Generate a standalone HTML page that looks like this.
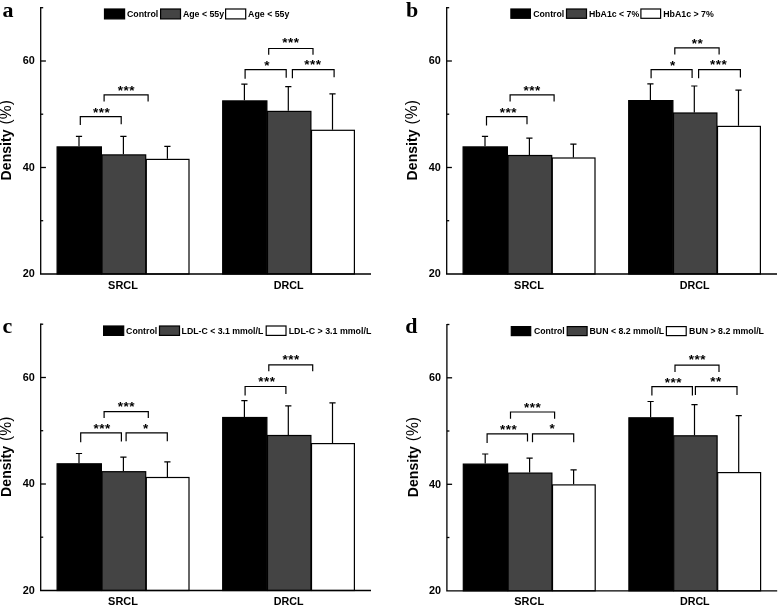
<!DOCTYPE html>
<html lang="en"><head><meta charset="utf-8"><title>Density SRCL DRCL</title>
<style>html,body{margin:0;padding:0;background:#fff}svg{display:block}</style></head>
<body>
<svg width="778" height="606" viewBox="0 0 778 606">
<rect width="778" height="606" fill="#fff"/>
<g transform="translate(0,0)">
<text x="2.4" y="16.6" font-family="Liberation Serif, Times New Roman, serif" font-weight="bold" font-size="22">a</text>
<text transform="translate(11.4,180.4) rotate(-90)" font-family="Liberation Sans, Arial, sans-serif" font-size="13.8" font-weight="bold" textLength="51" lengthAdjust="spacingAndGlyphs">Density</text>
<text transform="translate(11.4,124.4) rotate(-90)" font-family="Liberation Sans, Arial, sans-serif" font-size="15.6">(%)</text>
<path d="M79.0 146.3V136.3M75.9 136.3H82.1" stroke="#000" stroke-width="1.2" fill="none"/>
<rect x="57.1" y="146.9" width="44.3" height="127.1" fill="#000" stroke="#000" stroke-width="1.2"/>
<path d="M123.4 154.3V136.3M120.3 136.3H126.5" stroke="#000" stroke-width="1.2" fill="none"/>
<rect x="102.0" y="154.9" width="43.7" height="119.1" fill="#444" stroke="#000" stroke-width="1.2"/>
<path d="M167.4 158.8V146.3M164.3 146.3H170.5" stroke="#000" stroke-width="1.2" fill="none"/>
<rect x="146.3" y="159.4" width="42.7" height="114.6" fill="#fff" stroke="#000" stroke-width="1.2"/>
<path d="M244.4 100.3V84.1M241.3 84.1H247.5" stroke="#000" stroke-width="1.2" fill="none"/>
<rect x="222.7" y="100.9" width="44.2" height="173.1" fill="#000" stroke="#000" stroke-width="1.2"/>
<path d="M288.3 110.8V86.6M285.2 86.6H291.4" stroke="#000" stroke-width="1.2" fill="none"/>
<rect x="267.5" y="111.4" width="43.4" height="162.6" fill="#444" stroke="#000" stroke-width="1.2"/>
<path d="M332.5 129.7V93.8M329.4 93.8H335.6" stroke="#000" stroke-width="1.2" fill="none"/>
<rect x="311.5" y="130.3" width="42.9" height="143.7" fill="#fff" stroke="#000" stroke-width="1.2"/>
<path d="M40.7 7.1V274.0M40.0 274.0H371" stroke="#000" stroke-width="1.3" fill="none"/>
<path d="M40.7 167.5H45.9" stroke="#000" stroke-width="1.3"/>
<path d="M40.7 61.0H45.9" stroke="#000" stroke-width="1.3"/>
<path d="M40.7 220.7H43.2" stroke="#000" stroke-width="1.3"/>
<path d="M40.7 114.2H43.2" stroke="#000" stroke-width="1.3"/>
<path d="M40.7 7.7H43.2" stroke="#000" stroke-width="1.3"/>
<text x="34.8" y="277.4" text-anchor="end" font-family="Liberation Sans, Arial, sans-serif" font-size="10.3" font-weight="bold" textLength="12.1" lengthAdjust="spacingAndGlyphs">20</text>
<text x="34.8" y="170.9" text-anchor="end" font-family="Liberation Sans, Arial, sans-serif" font-size="10.3" font-weight="bold" textLength="12.1" lengthAdjust="spacingAndGlyphs">40</text>
<text x="34.8" y="64.4" text-anchor="end" font-family="Liberation Sans, Arial, sans-serif" font-size="10.3" font-weight="bold" textLength="12.1" lengthAdjust="spacingAndGlyphs">60</text>
<text x="123.0" y="288.7" text-anchor="middle" font-family="Liberation Sans, Arial, sans-serif" font-size="10.6" font-weight="bold" textLength="29.8" lengthAdjust="spacingAndGlyphs">SRCL</text>
<text x="288.6" y="288.7" text-anchor="middle" font-family="Liberation Sans, Arial, sans-serif" font-size="10.6" font-weight="bold" textLength="29.8" lengthAdjust="spacingAndGlyphs">DRCL</text>
<path d="M80.3 124.9V116.7H121.2V124.3" stroke="#000" stroke-width="1.2" fill="none" stroke-linejoin="miter"/>
<text x="101.6" y="117.0" text-anchor="middle" font-family="Liberation Sans, Arial, sans-serif" font-size="13.5" font-weight="bold" letter-spacing="0.5">***</text>
<path d="M104.1 101.6V94.9H148.1V101.6" stroke="#000" stroke-width="1.2" fill="none" stroke-linejoin="miter"/>
<text x="126.3" y="95.1" text-anchor="middle" font-family="Liberation Sans, Arial, sans-serif" font-size="13.5" font-weight="bold" letter-spacing="0.5">***</text>
<path d="M268.7 54.7V48.5H313.0V54.7" stroke="#000" stroke-width="1.2" fill="none" stroke-linejoin="miter"/>
<text x="291.0" y="47.4" text-anchor="middle" font-family="Liberation Sans, Arial, sans-serif" font-size="13.5" font-weight="bold" letter-spacing="0.5">***</text>
<path d="M245.1 78.8V69.7H286.2V77.7" stroke="#000" stroke-width="1.2" fill="none" stroke-linejoin="miter"/>
<text x="267.2" y="69.5" text-anchor="middle" font-family="Liberation Sans, Arial, sans-serif" font-size="13.5" font-weight="bold" letter-spacing="0.5">*</text>
<path d="M292.4 78.3V69.7H334.1V77.3" stroke="#000" stroke-width="1.2" fill="none" stroke-linejoin="miter"/>
<text x="312.8" y="69.3" text-anchor="middle" font-family="Liberation Sans, Arial, sans-serif" font-size="13.5" font-weight="bold" letter-spacing="0.5">***</text>
<rect x="104.5" y="9.0" width="20.1" height="9.9" fill="#000" stroke="#000" stroke-width="1.2"/>
<text x="127.0" y="17.1" font-family="Liberation Sans, Arial, sans-serif" font-size="8.8" font-weight="bold" textLength="31.3" lengthAdjust="spacingAndGlyphs">Control</text>
<rect x="160.6" y="9.0" width="19.9" height="9.9" fill="#444" stroke="#000" stroke-width="1.2"/>
<text x="182.9" y="17.1" font-family="Liberation Sans, Arial, sans-serif" font-size="8.8" font-weight="bold" textLength="41.2" lengthAdjust="spacingAndGlyphs">Age &lt; 55y</text>
<rect x="225.6" y="9.0" width="20.1" height="9.9" fill="#fff" stroke="#000" stroke-width="1.2"/>
<text x="248.1" y="17.1" font-family="Liberation Sans, Arial, sans-serif" font-size="8.8" font-weight="bold" textLength="41.3" lengthAdjust="spacingAndGlyphs">Age &lt; 55y</text>
</g>
<g transform="translate(406,0)">
<text x="0.0" y="16.6" font-family="Liberation Serif, Times New Roman, serif" font-weight="bold" font-size="22">b</text>
<text transform="translate(11.4,180.4) rotate(-90)" font-family="Liberation Sans, Arial, sans-serif" font-size="13.8" font-weight="bold" textLength="51" lengthAdjust="spacingAndGlyphs">Density</text>
<text transform="translate(11.4,124.4) rotate(-90)" font-family="Liberation Sans, Arial, sans-serif" font-size="15.6">(%)</text>
<path d="M79.0 146.3V136.4M75.9 136.4H82.1" stroke="#000" stroke-width="1.2" fill="none"/>
<rect x="57.1" y="146.9" width="44.3" height="127.1" fill="#000" stroke="#000" stroke-width="1.2"/>
<path d="M123.4 154.9V138.2M120.3 138.2H126.5" stroke="#000" stroke-width="1.2" fill="none"/>
<rect x="102.0" y="155.5" width="43.7" height="118.5" fill="#444" stroke="#000" stroke-width="1.2"/>
<path d="M167.4 157.4V144.2M164.3 144.2H170.5" stroke="#000" stroke-width="1.2" fill="none"/>
<rect x="146.3" y="158.0" width="42.7" height="116.0" fill="#fff" stroke="#000" stroke-width="1.2"/>
<path d="M244.4 100.0V83.8M241.3 83.8H247.5" stroke="#000" stroke-width="1.2" fill="none"/>
<rect x="222.7" y="100.6" width="44.2" height="173.4" fill="#000" stroke="#000" stroke-width="1.2"/>
<path d="M288.3 112.4V86.0M285.2 86.0H291.4" stroke="#000" stroke-width="1.2" fill="none"/>
<rect x="267.5" y="113.0" width="43.4" height="161.0" fill="#444" stroke="#000" stroke-width="1.2"/>
<path d="M332.5 125.8V90.2M329.4 90.2H335.6" stroke="#000" stroke-width="1.2" fill="none"/>
<rect x="311.5" y="126.4" width="42.9" height="147.6" fill="#fff" stroke="#000" stroke-width="1.2"/>
<path d="M40.7 7.1V274.0M40.0 274.0H371" stroke="#000" stroke-width="1.3" fill="none"/>
<path d="M40.7 167.5H45.9" stroke="#000" stroke-width="1.3"/>
<path d="M40.7 61.0H45.9" stroke="#000" stroke-width="1.3"/>
<path d="M40.7 220.7H43.2" stroke="#000" stroke-width="1.3"/>
<path d="M40.7 114.2H43.2" stroke="#000" stroke-width="1.3"/>
<path d="M40.7 7.7H43.2" stroke="#000" stroke-width="1.3"/>
<text x="34.8" y="277.4" text-anchor="end" font-family="Liberation Sans, Arial, sans-serif" font-size="10.3" font-weight="bold" textLength="12.1" lengthAdjust="spacingAndGlyphs">20</text>
<text x="34.8" y="170.9" text-anchor="end" font-family="Liberation Sans, Arial, sans-serif" font-size="10.3" font-weight="bold" textLength="12.1" lengthAdjust="spacingAndGlyphs">40</text>
<text x="34.8" y="64.4" text-anchor="end" font-family="Liberation Sans, Arial, sans-serif" font-size="10.3" font-weight="bold" textLength="12.1" lengthAdjust="spacingAndGlyphs">60</text>
<text x="123.0" y="288.7" text-anchor="middle" font-family="Liberation Sans, Arial, sans-serif" font-size="10.6" font-weight="bold" textLength="29.8" lengthAdjust="spacingAndGlyphs">SRCL</text>
<text x="288.6" y="288.7" text-anchor="middle" font-family="Liberation Sans, Arial, sans-serif" font-size="10.6" font-weight="bold" textLength="29.8" lengthAdjust="spacingAndGlyphs">DRCL</text>
<path d="M80.5 125.5V116.7H121.0V124.3" stroke="#000" stroke-width="1.2" fill="none" stroke-linejoin="miter"/>
<text x="102.3" y="116.6" text-anchor="middle" font-family="Liberation Sans, Arial, sans-serif" font-size="13.5" font-weight="bold" letter-spacing="0.5">***</text>
<path d="M104.1 101.6V94.9H148.1V101.6" stroke="#000" stroke-width="1.2" fill="none" stroke-linejoin="miter"/>
<text x="126.2" y="95.4" text-anchor="middle" font-family="Liberation Sans, Arial, sans-serif" font-size="13.5" font-weight="bold" letter-spacing="0.5">***</text>
<path d="M268.8 54.4V47.9H313.1V54.4" stroke="#000" stroke-width="1.2" fill="none" stroke-linejoin="miter"/>
<text x="291.4" y="47.6" text-anchor="middle" font-family="Liberation Sans, Arial, sans-serif" font-size="13.5" font-weight="bold" letter-spacing="0.5">**</text>
<path d="M245.1 78.2V69.7H286.1V78.0" stroke="#000" stroke-width="1.2" fill="none" stroke-linejoin="miter"/>
<text x="266.9" y="69.8" text-anchor="middle" font-family="Liberation Sans, Arial, sans-serif" font-size="13.5" font-weight="bold" letter-spacing="0.5">*</text>
<path d="M292.6 78.2V69.7H334.4V77.6" stroke="#000" stroke-width="1.2" fill="none" stroke-linejoin="miter"/>
<text x="312.7" y="69.4" text-anchor="middle" font-family="Liberation Sans, Arial, sans-serif" font-size="13.5" font-weight="bold" letter-spacing="0.5">***</text>
<rect x="104.9" y="9.0" width="19.5" height="9.3" fill="#000" stroke="#000" stroke-width="1.2"/>
<text x="127.2" y="16.8" font-family="Liberation Sans, Arial, sans-serif" font-size="8.8" font-weight="bold" textLength="31.1" lengthAdjust="spacingAndGlyphs">Control</text>
<rect x="160.5" y="9.0" width="20.0" height="9.3" fill="#444" stroke="#000" stroke-width="1.2"/>
<text x="182.9" y="16.8" font-family="Liberation Sans, Arial, sans-serif" font-size="8.8" font-weight="bold" textLength="50.4" lengthAdjust="spacingAndGlyphs">HbA1c &lt; 7%</text>
<rect x="234.9" y="9.0" width="19.7" height="9.3" fill="#fff" stroke="#000" stroke-width="1.2"/>
<text x="257.2" y="16.8" font-family="Liberation Sans, Arial, sans-serif" font-size="8.8" font-weight="bold" textLength="50.6" lengthAdjust="spacingAndGlyphs">HbA1c &gt; 7%</text>
</g>
<g transform="translate(0,316.5)">
<text x="2.4" y="16.6" font-family="Liberation Serif, Times New Roman, serif" font-weight="bold" font-size="22">c</text>
<text transform="translate(11.4,180.4) rotate(-90)" font-family="Liberation Sans, Arial, sans-serif" font-size="13.8" font-weight="bold" textLength="51" lengthAdjust="spacingAndGlyphs">Density</text>
<text transform="translate(11.4,124.4) rotate(-90)" font-family="Liberation Sans, Arial, sans-serif" font-size="15.6">(%)</text>
<path d="M79.0 146.7V137.0M75.9 137.0H82.1" stroke="#000" stroke-width="1.2" fill="none"/>
<rect x="57.1" y="147.3" width="44.3" height="126.7" fill="#000" stroke="#000" stroke-width="1.2"/>
<path d="M123.4 154.6V140.7M120.3 140.7H126.5" stroke="#000" stroke-width="1.2" fill="none"/>
<rect x="102.0" y="155.2" width="43.7" height="118.8" fill="#444" stroke="#000" stroke-width="1.2"/>
<path d="M167.4 160.4V145.4M164.3 145.4H170.5" stroke="#000" stroke-width="1.2" fill="none"/>
<rect x="146.3" y="161.0" width="42.7" height="113.0" fill="#fff" stroke="#000" stroke-width="1.2"/>
<path d="M244.4 100.4V84.2M241.3 84.2H247.5" stroke="#000" stroke-width="1.2" fill="none"/>
<rect x="222.7" y="101.0" width="44.2" height="173.0" fill="#000" stroke="#000" stroke-width="1.2"/>
<path d="M288.3 118.4V89.3M285.2 89.3H291.4" stroke="#000" stroke-width="1.2" fill="none"/>
<rect x="267.5" y="119.0" width="43.4" height="155.0" fill="#444" stroke="#000" stroke-width="1.2"/>
<path d="M332.5 126.5V86.3M329.4 86.3H335.6" stroke="#000" stroke-width="1.2" fill="none"/>
<rect x="311.5" y="127.1" width="42.9" height="146.9" fill="#fff" stroke="#000" stroke-width="1.2"/>
<path d="M40.7 7.1V274.0M40.0 274.0H371" stroke="#000" stroke-width="1.3" fill="none"/>
<path d="M40.7 167.5H45.9" stroke="#000" stroke-width="1.3"/>
<path d="M40.7 61.0H45.9" stroke="#000" stroke-width="1.3"/>
<path d="M40.7 220.7H43.2" stroke="#000" stroke-width="1.3"/>
<path d="M40.7 114.2H43.2" stroke="#000" stroke-width="1.3"/>
<path d="M40.7 7.7H43.2" stroke="#000" stroke-width="1.3"/>
<text x="34.8" y="277.4" text-anchor="end" font-family="Liberation Sans, Arial, sans-serif" font-size="10.3" font-weight="bold" textLength="12.1" lengthAdjust="spacingAndGlyphs">20</text>
<text x="34.8" y="170.9" text-anchor="end" font-family="Liberation Sans, Arial, sans-serif" font-size="10.3" font-weight="bold" textLength="12.1" lengthAdjust="spacingAndGlyphs">40</text>
<text x="34.8" y="64.4" text-anchor="end" font-family="Liberation Sans, Arial, sans-serif" font-size="10.3" font-weight="bold" textLength="12.1" lengthAdjust="spacingAndGlyphs">60</text>
<text x="123.0" y="288.7" text-anchor="middle" font-family="Liberation Sans, Arial, sans-serif" font-size="10.6" font-weight="bold" textLength="29.8" lengthAdjust="spacingAndGlyphs">SRCL</text>
<text x="288.6" y="288.7" text-anchor="middle" font-family="Liberation Sans, Arial, sans-serif" font-size="10.6" font-weight="bold" textLength="29.8" lengthAdjust="spacingAndGlyphs">DRCL</text>
<path d="M104.1 101.6V95.1H148.3V101.6" stroke="#000" stroke-width="1.2" fill="none" stroke-linejoin="miter"/>
<text x="126.4" y="94.9" text-anchor="middle" font-family="Liberation Sans, Arial, sans-serif" font-size="13.5" font-weight="bold" letter-spacing="0.5">***</text>
<path d="M80.7 125.7V116.4H121.4V125.0" stroke="#000" stroke-width="1.2" fill="none" stroke-linejoin="miter"/>
<text x="102.2" y="116.9" text-anchor="middle" font-family="Liberation Sans, Arial, sans-serif" font-size="13.5" font-weight="bold" letter-spacing="0.5">***</text>
<path d="M126.1 124.8V116.4H167.3V124.8" stroke="#000" stroke-width="1.2" fill="none" stroke-linejoin="miter"/>
<text x="146.0" y="116.3" text-anchor="middle" font-family="Liberation Sans, Arial, sans-serif" font-size="13.5" font-weight="bold" letter-spacing="0.5">*</text>
<path d="M268.8 54.8V48.3H312.7V54.8" stroke="#000" stroke-width="1.2" fill="none" stroke-linejoin="miter"/>
<text x="291.2" y="47.7" text-anchor="middle" font-family="Liberation Sans, Arial, sans-serif" font-size="13.5" font-weight="bold" letter-spacing="0.5">***</text>
<path d="M245.1 79.1V70.0H285.9V77.5" stroke="#000" stroke-width="1.2" fill="none" stroke-linejoin="miter"/>
<text x="267.0" y="69.9" text-anchor="middle" font-family="Liberation Sans, Arial, sans-serif" font-size="13.5" font-weight="bold" letter-spacing="0.5">***</text>
<rect x="103.6" y="9.5" width="20.1" height="9.4" fill="#000" stroke="#000" stroke-width="1.2"/>
<text x="126.1" y="17.4" font-family="Liberation Sans, Arial, sans-serif" font-size="8.8" font-weight="bold" textLength="31.1" lengthAdjust="spacingAndGlyphs">Control</text>
<rect x="159.5" y="9.5" width="20.0" height="9.4" fill="#444" stroke="#000" stroke-width="1.2"/>
<text x="181.6" y="17.4" font-family="Liberation Sans, Arial, sans-serif" font-size="8.8" font-weight="bold" textLength="81.7" lengthAdjust="spacingAndGlyphs">LDL-C &lt; 3.1 mmol/L</text>
<rect x="266.2" y="9.5" width="19.8" height="9.4" fill="#fff" stroke="#000" stroke-width="1.2"/>
<text x="288.7" y="17.4" font-family="Liberation Sans, Arial, sans-serif" font-size="8.8" font-weight="bold" textLength="82.6" lengthAdjust="spacingAndGlyphs">LDL-C &gt; 3.1 mmol/L</text>
</g>
<g transform="translate(406.2,316.8)">
<text x="-0.9" y="16.6" font-family="Liberation Serif, Times New Roman, serif" font-weight="bold" font-size="22">d</text>
<text transform="translate(11.4,180.4) rotate(-90)" font-family="Liberation Sans, Arial, sans-serif" font-size="13.8" font-weight="bold" textLength="51" lengthAdjust="spacingAndGlyphs">Density</text>
<text transform="translate(11.4,124.4) rotate(-90)" font-family="Liberation Sans, Arial, sans-serif" font-size="15.6">(%)</text>
<path d="M79.0 146.7V137.2M75.9 137.2H82.1" stroke="#000" stroke-width="1.2" fill="none"/>
<rect x="57.1" y="147.3" width="44.3" height="126.7" fill="#000" stroke="#000" stroke-width="1.2"/>
<path d="M123.4 155.7V141.3M120.3 141.3H126.5" stroke="#000" stroke-width="1.2" fill="none"/>
<rect x="102.0" y="156.3" width="43.7" height="117.7" fill="#444" stroke="#000" stroke-width="1.2"/>
<path d="M167.4 167.5V153.1M164.3 153.1H170.5" stroke="#000" stroke-width="1.2" fill="none"/>
<rect x="146.3" y="168.1" width="42.7" height="105.9" fill="#fff" stroke="#000" stroke-width="1.2"/>
<path d="M244.4 100.4V84.7M241.3 84.7H247.5" stroke="#000" stroke-width="1.2" fill="none"/>
<rect x="222.7" y="101.0" width="44.2" height="173.0" fill="#000" stroke="#000" stroke-width="1.2"/>
<path d="M288.3 118.4V87.9M285.2 87.9H291.4" stroke="#000" stroke-width="1.2" fill="none"/>
<rect x="267.5" y="119.0" width="43.4" height="155.0" fill="#444" stroke="#000" stroke-width="1.2"/>
<path d="M332.5 155.2V98.8M329.4 98.8H335.6" stroke="#000" stroke-width="1.2" fill="none"/>
<rect x="311.5" y="155.8" width="42.9" height="118.2" fill="#fff" stroke="#000" stroke-width="1.2"/>
<path d="M40.7 7.1V274.0M40.0 274.0H371" stroke="#000" stroke-width="1.3" fill="none"/>
<path d="M40.7 167.5H45.9" stroke="#000" stroke-width="1.3"/>
<path d="M40.7 61.0H45.9" stroke="#000" stroke-width="1.3"/>
<path d="M40.7 220.7H43.2" stroke="#000" stroke-width="1.3"/>
<path d="M40.7 114.2H43.2" stroke="#000" stroke-width="1.3"/>
<path d="M40.7 7.7H43.2" stroke="#000" stroke-width="1.3"/>
<text x="34.8" y="277.4" text-anchor="end" font-family="Liberation Sans, Arial, sans-serif" font-size="10.3" font-weight="bold" textLength="12.1" lengthAdjust="spacingAndGlyphs">20</text>
<text x="34.8" y="170.9" text-anchor="end" font-family="Liberation Sans, Arial, sans-serif" font-size="10.3" font-weight="bold" textLength="12.1" lengthAdjust="spacingAndGlyphs">40</text>
<text x="34.8" y="64.4" text-anchor="end" font-family="Liberation Sans, Arial, sans-serif" font-size="10.3" font-weight="bold" textLength="12.1" lengthAdjust="spacingAndGlyphs">60</text>
<text x="123.0" y="288.7" text-anchor="middle" font-family="Liberation Sans, Arial, sans-serif" font-size="10.6" font-weight="bold" textLength="29.8" lengthAdjust="spacingAndGlyphs">SRCL</text>
<text x="288.6" y="288.7" text-anchor="middle" font-family="Liberation Sans, Arial, sans-serif" font-size="10.6" font-weight="bold" textLength="29.8" lengthAdjust="spacingAndGlyphs">DRCL</text>
<path d="M104.3 101.9V95.2H148.4V101.9" stroke="#000" stroke-width="1.2" fill="none" stroke-linejoin="miter"/>
<text x="126.4" y="94.8" text-anchor="middle" font-family="Liberation Sans, Arial, sans-serif" font-size="13.5" font-weight="bold" letter-spacing="0.5">***</text>
<path d="M80.9 126.3V117.0H121.3V124.7" stroke="#000" stroke-width="1.2" fill="none" stroke-linejoin="miter"/>
<text x="102.4" y="116.8" text-anchor="middle" font-family="Liberation Sans, Arial, sans-serif" font-size="13.5" font-weight="bold" letter-spacing="0.5">***</text>
<path d="M126.3 125.4V117.0H167.5V125.4" stroke="#000" stroke-width="1.2" fill="none" stroke-linejoin="miter"/>
<text x="146.3" y="116.2" text-anchor="middle" font-family="Liberation Sans, Arial, sans-serif" font-size="13.5" font-weight="bold" letter-spacing="0.5">*</text>
<path d="M268.8 55.3V48.3H312.8V55.3" stroke="#000" stroke-width="1.2" fill="none" stroke-linejoin="miter"/>
<text x="291.2" y="47.6" text-anchor="middle" font-family="Liberation Sans, Arial, sans-serif" font-size="13.5" font-weight="bold" letter-spacing="0.5">***</text>
<path d="M245.7 78.6V69.9H286.2V78.6" stroke="#000" stroke-width="1.2" fill="none" stroke-linejoin="miter"/>
<text x="267.2" y="69.8" text-anchor="middle" font-family="Liberation Sans, Arial, sans-serif" font-size="13.5" font-weight="bold" letter-spacing="0.5">***</text>
<path d="M289.2 78.2V69.9H330.8V78.2" stroke="#000" stroke-width="1.2" fill="none" stroke-linejoin="miter"/>
<text x="309.8" y="69.2" text-anchor="middle" font-family="Liberation Sans, Arial, sans-serif" font-size="13.5" font-weight="bold" letter-spacing="0.5">**</text>
<rect x="105.1" y="9.8" width="19.4" height="9.0" fill="#000" stroke="#000" stroke-width="1.2"/>
<text x="127.7" y="17.5" font-family="Liberation Sans, Arial, sans-serif" font-size="8.8" font-weight="bold" textLength="30.9" lengthAdjust="spacingAndGlyphs">Control</text>
<rect x="161.0" y="9.8" width="19.9" height="9.0" fill="#444" stroke="#000" stroke-width="1.2"/>
<text x="183.3" y="17.5" font-family="Liberation Sans, Arial, sans-serif" font-size="8.8" font-weight="bold" textLength="74.7" lengthAdjust="spacingAndGlyphs">BUN &lt; 8.2 mmol/L</text>
<rect x="260.2" y="9.8" width="19.8" height="9.0" fill="#fff" stroke="#000" stroke-width="1.2"/>
<text x="282.9" y="17.5" font-family="Liberation Sans, Arial, sans-serif" font-size="8.8" font-weight="bold" textLength="74.9" lengthAdjust="spacingAndGlyphs">BUN &gt; 8.2 mmol/L</text>
</g>
</svg>
</body></html>
